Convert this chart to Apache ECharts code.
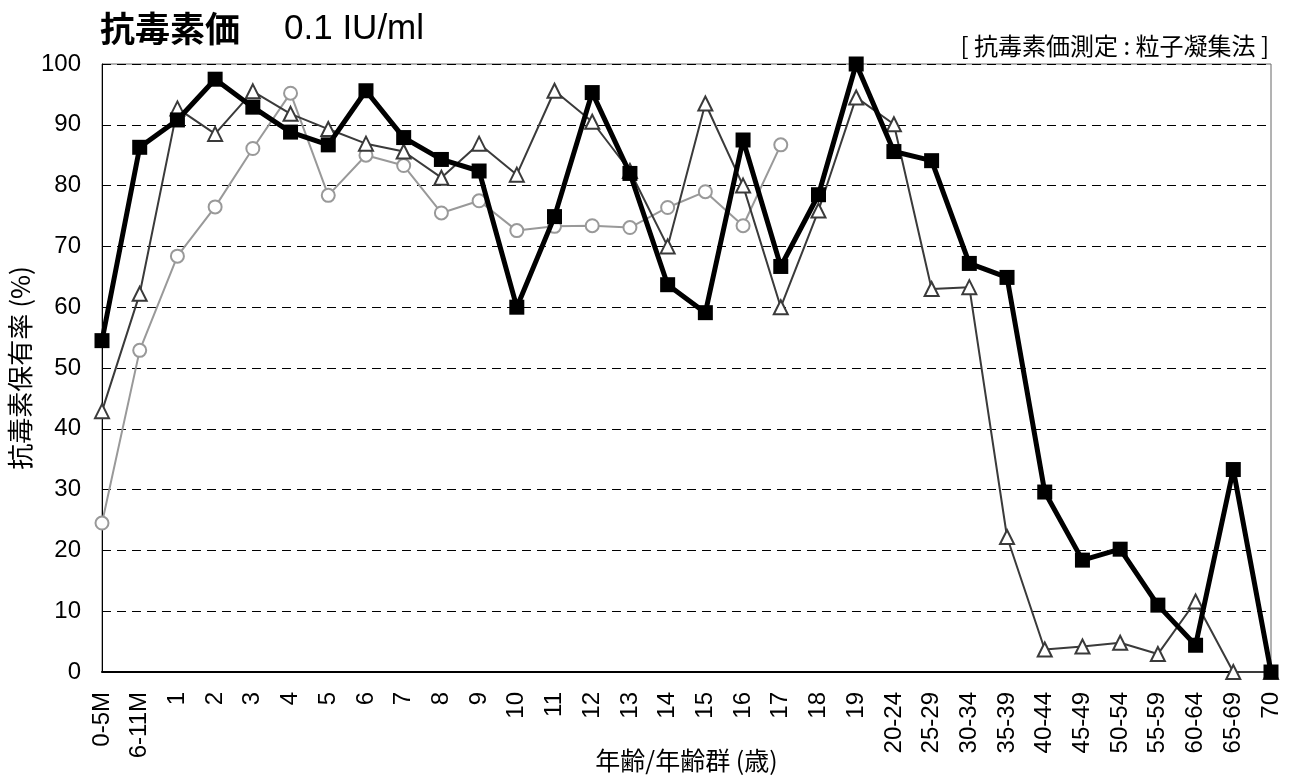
<!DOCTYPE html>
<html><head><meta charset="utf-8">
<script src="https://cdn.jsdelivr.net/npm/echarts@6/dist/echarts.min.js"></script>
<style>html,body{margin:0;padding:0;background:#fff}#c{width:1290px;height:779px}</style>
</head><body><div id="c"></div>
<script>
const categories = ['0-5M','6-11M','1','2','3','4','5','6','7','8','9','10','11','12','13','14','15','16','17','18','19','20-24','25-29','30-34','35-39','40-44','45-49','50-54','55-59','60-64','65-69','70'];
const seriesSquare = [54.5,86.3,90.8,97.5,92.9,88.8,86.7,95.6,87.9,84.3,82.4,60.0,74.9,95.3,82.0,63.7,59.1,87.5,66.7,78.5,100,85.6,84.1,67.2,64.9,29.6,18.4,20.2,11.0,4.4,33.3,0];
const seriesTriangle = [42.9,62.2,92.7,88.5,95.5,91.8,89.3,86.9,85.6,81.3,86.9,81.8,95.6,90.5,82.4,70.0,93.5,80.0,60.0,75.9,94.5,90.1,63.0,63.3,22.2,3.7,4.2,4.8,2.95,11.6,0,0];
const seriesCircle = [24.5,52.9,68.4,76.5,86.1,95.2,78.4,85.0,83.3,75.5,77.5,72.6,73.3,73.4,73.1,76.4,79.0,73.4,86.7,null,null,null,null,null,null,null,null,null,null,null,null,null];
const yTicks = [0,10,20,30,40,50,60,70,80,90,100];

const FONT = '"Liberation Sans", Arial, "Noto Sans CJK JP", sans-serif';
const CJK = '"Noto Sans CJK JP", "Liberation Sans", sans-serif';
const chart = echarts.init(document.getElementById('c'));
chart.setOption({
  backgroundColor: '#fff',
  animation: false,
  textStyle: { fontFamily: FONT },
  title: [
    { text: '抗毒素価', left: 95, top: 6, textStyle: { fontSize: 35, fontWeight: 'bold', color: '#000', fontFamily: CJK } },
    { text: '0.1 IU/ml', left: 279, top: 7, textStyle: { fontSize: 35, fontWeight: 'normal', color: '#000', fontFamily: FONT } },
    { text: '[ 抗毒素価測定 : 粒子凝集法 ]', right: 16, top: 29, textStyle: { fontSize: 24, fontWeight: 'normal', color: '#000', fontFamily: CJK } }
  ],
  grid: { left: 102, right: 19, top: 64, bottom: 107, containLabel: false, outerBoundsMode: 'none',
    show: true, borderColor: '#666', borderWidth: 1, backgroundColor: 'transparent' },
  xAxis: {
    type: 'category', data: categories, boundaryGap: false,
    name: '年齢/年齢群 (歳)', nameLocation: 'middle', nameGap: 76, nameMoveOverlap: false,
    nameTextStyle: { fontSize: 25, color: '#000', fontFamily: CJK },
    axisLine: { show: true, lineStyle: { color: '#000', width: 2 } },
    axisTick: { show: false },
    axisLabel: { rotate: 90, fontSize: 24, color: '#000', margin: 20, interval: 0, fontFamily: FONT },
    splitLine: { show: false }
  },
  yAxis: {
    type: 'value', min: 0, max: 100, interval: 10,
    name: '抗毒素保有率 (%)', nameLocation: 'middle', nameGap: 69, nameMoveOverlap: false,
    nameTextStyle: { fontSize: 26, color: '#000', fontFamily: CJK },
    axisLine: { show: true, lineStyle: { color: '#000', width: 1 } },
    axisTick: { show: false },
    axisLabel: { fontSize: 24, color: '#000', margin: 21, fontFamily: FONT,
      formatter: v => yTicks.includes(v) ? String(v) : '' },
    splitLine: { show: true, lineStyle: { color: '#000', type: [9, 6], width: 1 } }
  },
  series: [
    { type: 'line', data: seriesCircle, symbol: 'circle', symbolSize: 13, connectNulls: false,
      lineStyle: { color: '#999', width: 2 }, itemStyle: { color: '#fff', borderColor: '#999', borderWidth: 2 }, z: 2 },
    { type: 'line', data: seriesTriangle, symbol: 'triangle', symbolSize: 14,
      lineStyle: { color: '#3a3a3a', width: 2 }, itemStyle: { color: '#fff', borderColor: '#3a3a3a', borderWidth: 2 }, z: 3 },
    { type: 'line', data: seriesSquare, symbol: 'rect', symbolSize: 15,
      lineStyle: { color: '#000', width: 5 }, itemStyle: { color: '#000', borderColor: '#000', borderWidth: 0 }, z: 4 }
  ]
});
</script></body></html>
